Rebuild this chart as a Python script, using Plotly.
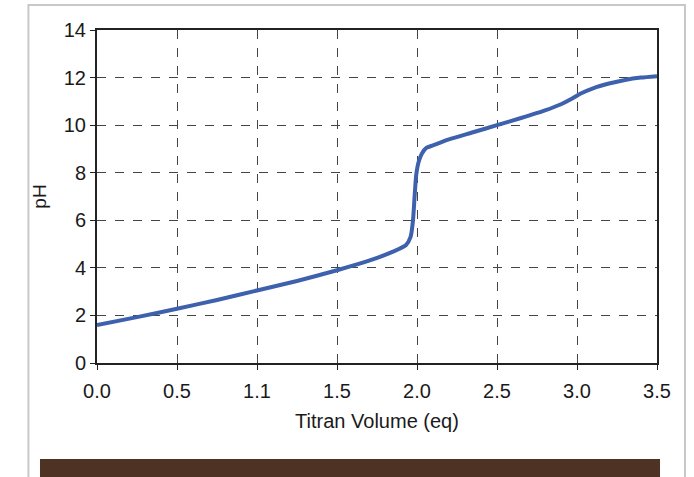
import plotly.graph_objects as go

# Titration curve: titrant volume (equivalents) vs pH
volume_eq = [0.0, 0.25, 0.5, 0.75, 1.0, 1.25, 1.5, 1.7, 1.85, 1.93, 1.96, 1.975, 1.985,
             1.995, 2.01, 2.03, 2.06, 2.1, 2.2, 2.35, 2.5, 2.65, 2.8, 2.9, 2.97,
             3.02, 3.1, 3.2, 3.3, 3.4, 3.5]
ph_values = [1.6, 1.93, 2.28, 2.65, 3.05, 3.45, 3.9, 4.3, 4.68, 4.95, 5.3, 6.0, 7.0,
             7.9, 8.45, 8.8, 9.05, 9.15, 9.4, 9.7, 10.0, 10.3, 10.62, 10.88, 11.12,
             11.32, 11.55, 11.75, 11.9, 12.0, 12.06]

x_tick_vals = [0.0, 0.5, 1.0, 1.5, 2.0, 2.5, 3.0, 3.5]
x_tick_text = ["0.0", "0.5", "1.1", "1.5", "2.0", "2.5", "3.0", "3.5"]
y_tick_vals = [0, 2, 4, 6, 8, 10, 12, 14]

fig = go.Figure()
fig.add_trace(go.Scatter(
    x=volume_eq, y=ph_values, mode="lines",
    line=dict(color="#3E61AE", width=4, shape="spline", smoothing=0.6),
    showlegend=False, hoverinfo="skip",
))

font_family = "Liberation Sans, Arial, sans-serif"

fig.update_layout(
    width=694, height=477,
    margin=dict(l=97, r=37, t=30, b=114),
    paper_bgcolor="white", plot_bgcolor="white",
    font=dict(family=font_family, size=20, color="#1a1a1a"),
    xaxis=dict(
        range=[0, 3.5], tickvals=x_tick_vals, ticktext=x_tick_text,
        showgrid=True, gridcolor="#444444", griddash="dash", gridwidth=1,
        showline=True, linecolor="#222222", linewidth=2, mirror=True,
        ticks="outside", ticklen=5, tickcolor="#222222", tickwidth=1,
        ticklabelstandoff=4,
        zeroline=False,
        title=dict(text="Titran Volume (eq)", font=dict(size=20), standoff=13),
    ),
    yaxis=dict(
        range=[0, 14], tickvals=y_tick_vals,
        showgrid=True, gridcolor="#444444", griddash="dash", gridwidth=1,
        showline=True, linecolor="#222222", linewidth=2, mirror=True,
        ticks="outside", ticklen=5, tickcolor="#222222", tickwidth=1,
        zeroline=False,
        title=dict(text="pH", font=dict(size=19), standoff=12),
    ),
    shapes=[
        # light frame around the whole figure
        dict(type="rect", xref="paper", yref="paper", x0=-0.1225, x1=1.05,
             y0=-0.40, y1=1.075, line=dict(color="#C8C8C8", width=2),
             fillcolor="rgba(0,0,0,0)", layer="below"),
        # brown footer band
        dict(type="rect", xref="paper", yref="paper", x0=-0.1018, x1=1.0054,
             y0=-0.345, y1=-0.288, line=dict(width=0), fillcolor="#4E3324"),
    ],
)

fig.write_html("out.html")
